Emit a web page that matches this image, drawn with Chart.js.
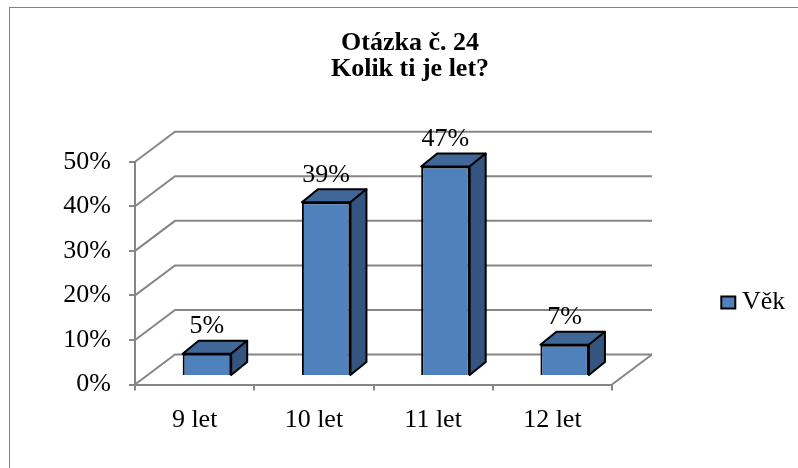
<!DOCTYPE html>
<html>
<head>
<meta charset="utf-8">
<script src="https://cdn.jsdelivr.net/npm/chart.js@4.4.1/dist/chart.umd.min.js"></script>
<style>
  html, body { margin: 0; padding: 0; background: #fff; }
  #wrap { position: relative; width: 798px; height: 468px; overflow: hidden; }
  #frame { position: absolute; left: 9px; top: 7px; width: 820px; height: 480px; border-left: 1px solid #808080; border-top: 1px solid #808080; }
  #chart { position: absolute; left: 0; top: 0; }
</style>
</head>
<body>
<div id="wrap">
  <div id="frame"></div>
  <canvas id="chart" width="798" height="468"></canvas>
</div>
<script>
const titleLines = ['Otázka č. 24', 'Kolik ti je let?'];
const categories = ['9 let', '10 let', '11 let', '12 let'];
const seriesLabel = 'Věk';
const values = [5, 39, 47, 7];
const yTicks = [0, 10, 20, 30, 40, 50];

const FONT = "'Liberation Serif', 'Times New Roman', serif";
const GRID = '#868686';
const FRONT = '#4f81bd';
const TOP = '#3f6797';
const SIDE = '#34557f';
const WALL_DEPTH = { x: 40, y: -30 };
const BAR_SHIFT = { x: 12.3, y: -8.5 }; // bars stand a little behind the front floor edge
const BAR_DEPTH = { x: 16, y: -13 };

function face(ctx, pts, color) {
  ctx.beginPath();
  ctx.moveTo(pts[0][0], pts[0][1]);
  pts.slice(1).forEach((p) => ctx.lineTo(p[0], p[1]));
  ctx.closePath();
  ctx.fillStyle = color;
  ctx.fill();
  ctx.stroke();
}

// back wall, side wall and floor of the 3d box, then the depth of the bars
const box3d = {
  id: 'box3d',
  beforeDatasetsDraw(chart) {
    const { ctx, chartArea: a, scales } = chart;
    ctx.save();
    ctx.strokeStyle = GRID;
    ctx.lineWidth = 2;
    yTicks.forEach((v) => {
      const py = scales.y.getPixelForValue(v);
      ctx.beginPath();
      ctx.moveTo(a.left, py);
      ctx.lineTo(a.left + WALL_DEPTH.x, py + WALL_DEPTH.y);
      ctx.lineTo(a.right + WALL_DEPTH.x, py + WALL_DEPTH.y);
      ctx.stroke();
    });
    ctx.beginPath();
    ctx.moveTo(a.right, a.bottom);
    ctx.lineTo(a.right + WALL_DEPTH.x, a.bottom + WALL_DEPTH.y);
    ctx.stroke();
    ctx.restore();

    ctx.save();
    ctx.translate(BAR_SHIFT.x, BAR_SHIFT.y);
    ctx.save();
    ctx.strokeStyle = '#000';
    ctx.lineWidth = 2;
    ctx.lineJoin = 'round';
    chart.getDatasetMeta(0).data.forEach((bar) => {
      const { x, y, base, width } = bar.getProps(['x', 'y', 'base', 'width'], true);
      const l = x - width / 2;
      const r = x + width / 2;
      const dx = BAR_DEPTH.x;
      const dy = BAR_DEPTH.y;
      face(ctx, [[l, y], [l + dx, y + dy], [r + dx, y + dy], [r, y]], TOP);
      face(ctx, [[r, y], [r + dx, y + dy], [r + dx, base + dy], [r, base]], SIDE);
    });
    ctx.restore();
  },
  afterDatasetsDraw(chart) {
    const { ctx } = chart;
    ctx.save();
    ctx.fillStyle = '#000';
    ctx.font = `26px ${FONT}`;
    ctx.textAlign = 'center';
    ctx.textBaseline = 'middle';
    chart.getDatasetMeta(0).data.forEach((bar, i) => {
      ctx.fillText(values[i] + '%', bar.x, bar.y - 27.5);
    });
    ctx.restore();
    ctx.restore(); // undo the bar shift
  },
};

new Chart(document.getElementById('chart'), {
  type: 'bar',
  data: {
    labels: categories,
    datasets: [{
      label: seriesLabel,
      data: values,
      backgroundColor: FRONT,
      borderColor: '#000',
      borderWidth: 2,
      barPercentage: 0.407,
      categoryPercentage: 1,
      clip: false,
    }],
  },
  options: {
    responsive: false,
    animation: false,
    devicePixelRatio: 1,
    events: [],
    layout: { padding: { left: 34.7, right: 12.7, top: 0, bottom: 0 } },
    plugins: {
      tooltip: { enabled: false },
      title: {
        display: true,
        text: titleLines,
        color: '#000',
        font: { family: FONT, size: 26, weight: 'bold', lineHeight: 0.985 },
        padding: { top: 30.4, bottom: 80.1 },
      },
      legend: {
        position: 'right',
        fullSize: false,
        maxWidth: 173.3,
        title: { display: true, text: ' ', padding: 22.2, font: { size: 12, lineHeight: 1.2 } },
        labels: {
          color: '#000',
          font: { family: FONT, size: 26 },
          boxWidth: 14,
          boxHeight: 12,
          padding: 109.3,
          textAlign: 'right',
        },
      },
    },
    scales: {
      x: {
        type: 'category',
        offset: true,
        afterFit: (s) => { s.height = 83.5; },
        grid: { offset: true, drawOnChartArea: false, drawTicks: true, tickLength: 6, color: GRID, lineWidth: 2 },
        border: { display: true, color: GRID, width: 2 },
        ticks: { color: '#000', font: { family: FONT, size: 26, lineHeight: 1.2 }, padding: 13.9, maxRotation: 0, autoSkip: false },
      },
      y: {
        min: 0,
        max: 50,
        afterFit: (s) => { s.width = 100.3; },
        afterBuildTicks: (s) => { s.ticks = yTicks.map((v) => ({ value: v })); },
        grid: { drawOnChartArea: false, drawTicks: true, tickLength: 6, color: GRID, lineWidth: 2 },
        border: { display: true, color: GRID, width: 2 },
        ticks: { color: '#000', font: { family: FONT, size: 26 }, padding: 18, callback: (v) => v + '%' },
      },
    },
  },
  plugins: [box3d],
});
</script>
</body>
</html>
